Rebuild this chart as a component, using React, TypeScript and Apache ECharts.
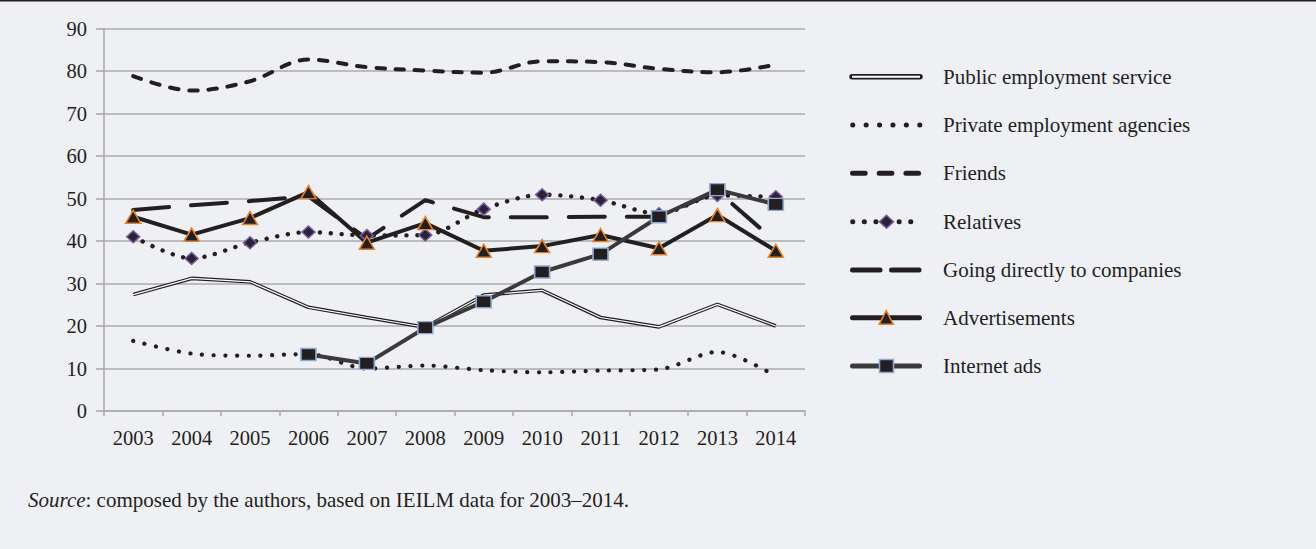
import React, { useEffect, useRef } from 'react';
import * as echarts from 'echarts';

const years = ['2003', '2004', '2005', '2006', '2007', '2008', '2009', '2010', '2011', '2012', '2013', '2014'];
const publicEmployment = [27.4, 31.2, 30.4, 24.4, 22.0, 19.7, 27.3, 28.4, 22.0, 19.8, 25.1, 20.0];
const privateAgencies = [16.5, 13.5, 13.0, 13.4, 10.0, 10.7, 9.6, 9.1, 9.5, 9.8, 13.9, 8.2];
const friends = [78.8, 75.4, 77.6, 82.7, 80.9, 80.1, 79.6, 82.3, 82.1, 80.5, 79.7, 81.5];
const relatives = [41.0, 35.9, 39.6, 42.1, 41.3, 41.4, 47.5, 50.9, 49.6, 46.4, 50.7, 50.4];
const companies = [47.3, 48.4, 49.4, 50.5, 40.5, 49.6, 45.6, 45.6, 45.7, 45.7, 51.8, 39.8];
const advertisements = [45.7, 41.5, 45.4, 51.5, 39.6, 44.2, 37.7, 38.8, 41.4, 38.3, 46.1, 37.7];
const internetAds = [null, null, null, 13.3, 11.2, 19.6, 25.7, 32.7, 36.9, 45.7, 52.1, 48.6];
const legendNames = [
  'Public employment service',
  'Private employment agencies',
  'Friends',
  'Relatives',
  'Going directly to companies',
  'Advertisements',
  'Internet ads',
];
const sourceNote = 'composed by the authors, based on IEILM data for 2003–2014.';

const FONT = '"Liberation Serif", "DejaVu Serif", serif';
const INK = '#231f20';
const BG = '#eff0f4';

export default function App() {
  const ref = useRef<HTMLDivElement>(null);
  useEffect(() => {
    document.body.style.margin = '0';
    const chart = echarts.init(ref.current!, null, { renderer: 'svg' });

    const lx1 = 850, lx2 = 922, ltx = 943;
    const rows = [76.7, 125, 173.3, 221.7, 270, 317.7, 366];
    const legendEls: any[] = [];
    legendEls.push({ type: 'line', shape: { x1: lx1 + 2, y1: rows[0], x2: lx2 - 2, y2: rows[0] }, style: { stroke: INK, lineWidth: 5.5, lineCap: 'round' } });
    legendEls.push({ type: 'line', shape: { x1: lx1 + 2, y1: rows[0], x2: lx2 - 2, y2: rows[0] }, style: { stroke: '#ffffff', lineWidth: 2 } });
    legendEls.push({ type: 'line', shape: { x1: 852.7, y1: rows[1], x2: 920, y2: rows[1] }, style: { stroke: INK, lineWidth: 5, lineCap: 'round', lineDash: [0.1, 13.3] } });
    legendEls.push({ type: 'line', shape: { x1: lx1 + 2.5, y1: rows[2], x2: lx2 - 2.5, y2: rows[2] }, style: { stroke: INK, lineWidth: 5, lineCap: 'round', lineDash: [12.7, 14] } });
    legendEls.push({ type: 'line', shape: { x1: 852.7, y1: rows[3], x2: 911, y2: rows[3] }, style: { stroke: INK, lineWidth: 5, lineCap: 'round', lineDash: [0.1, 11.5] } });
    legendEls.push({ type: 'polygon', shape: { points: [[886.5, rows[3] - 6.5], [893.5, rows[3]], [886.5, rows[3] + 6.5], [879.5, rows[3]]] }, style: { fill: '#2a2430', stroke: '#7a5aa8', lineWidth: 1.5 } });
    legendEls.push({ type: 'line', shape: { x1: lx1 + 2.5, y1: rows[4], x2: lx2 - 2.5, y2: rows[4] }, style: { stroke: INK, lineWidth: 5, lineCap: 'round', lineDash: [27.5, 11.5] } });
    legendEls.push({ type: 'line', shape: { x1: lx1 + 2.5, y1: rows[5], x2: lx2 - 2.5, y2: rows[5] }, style: { stroke: INK, lineWidth: 5, lineCap: 'round' } });
    legendEls.push({ type: 'polygon', shape: { points: [[886.2, rows[5] - 7], [893.2, rows[5] + 6.5], [879.2, rows[5] + 6.5]] }, style: { fill: INK, stroke: '#e8822a', lineWidth: 1.6 } });
    legendEls.push({ type: 'line', shape: { x1: lx1 + 2.5, y1: rows[6], x2: lx2 - 2.5, y2: rows[6] }, style: { stroke: '#3a3a3a', lineWidth: 5, lineCap: 'round' } });
    legendEls.push({ type: 'rect', shape: { x: 879.5, y: rows[6] - 6.5, width: 14, height: 13 }, style: { fill: INK, stroke: '#8fa9d4', lineWidth: 1.6 } });
    legendNames.forEach((n, i) => {
      legendEls.push({ type: 'text', x: ltx, y: rows[i], style: { text: n, font: `21px ${FONT}`, fill: INK, verticalAlign: 'middle', align: 'left' } });
    });

    const noSym = { symbol: 'none', showSymbol: false };
    chart.setOption({
      animation: false,
      backgroundColor: BG,
      grid: { left: 104, right: 511, top: 28.5, bottom: 138, containLabel: false },
      xAxis: {
        type: 'category',
        data: years,
        boundaryGap: true,
        axisLine: { lineStyle: { color: '#a9a9ab', width: 1.5 } },
        axisTick: { show: true, length: 5, lineStyle: { color: '#a9a9ab', width: 1.5 } },
        axisLabel: { color: INK, fontFamily: FONT, fontSize: 20.5, margin: 16 },
        splitLine: { show: false },
      },
      yAxis: {
        type: 'value',
        min: 0,
        max: 90,
        interval: 10,
        axisLine: { show: true, lineStyle: { color: '#a9a9ab', width: 1.5 } },
        axisTick: { show: true, length: 8, lineStyle: { color: '#a9a9ab', width: 1.5 } },
        axisLabel: { color: INK, fontFamily: FONT, fontSize: 20.5, margin: 17 },
        splitLine: { lineStyle: { color: '#ababad', width: 1.5 } },
      },
      graphic: [
        { type: 'rect', shape: { x: 0, y: 0, width: 1316, height: 1.5 }, style: { fill: INK } },
        ...legendEls,
        {
          type: 'text',
          x: 28,
          y: 500,
          style: {
            text: '{i|Source}: ' + sourceNote,
            font: `21px ${FONT}`,
            fill: INK,
            verticalAlign: 'middle',
            rich: { i: { fontStyle: 'italic', fontFamily: FONT, fontSize: 21, fill: INK } },
          },
        },
      ],
      series: [
        { name: legendNames[0], type: 'line', data: publicEmployment, ...noSym, lineStyle: { color: INK, width: 3.6 } },
        { name: legendNames[0] + ' inner', type: 'line', data: publicEmployment, ...noSym, silent: true, lineStyle: { color: '#ffffff', width: 1.2 } },
        { name: legendNames[1], type: 'line', data: privateAgencies, ...noSym, smooth: 0.3, lineStyle: { color: INK, width: 4.2, type: [0.1, 11.6], cap: 'round' } },
        { name: legendNames[2], type: 'line', data: friends, ...noSym, smooth: 0.35, lineStyle: { color: INK, width: 4, type: [8.5, 10.8], cap: 'round' } },
        {
          name: legendNames[3], type: 'line', data: relatives, smooth: 0.3, symbol: 'diamond', symbolSize: [13, 12], showSymbol: true,
          lineStyle: { color: INK, width: 4.4, type: [0.1, 10.7], cap: 'round' },
          itemStyle: { color: '#2a2430', borderColor: '#7a5aa8', borderWidth: 1.5 },
        },
        { name: legendNames[4], type: 'line', data: companies, ...noSym, lineStyle: { color: INK, width: 4, type: [36, 22], cap: 'round' } },
        {
          name: legendNames[5], type: 'line', data: advertisements, symbol: 'triangle', symbolSize: [15, 13], showSymbol: true,
          lineStyle: { color: INK, width: 4 },
          itemStyle: { color: INK, borderColor: '#e8822a', borderWidth: 1.5 },
        },
        {
          name: legendNames[6], type: 'line', data: internetAds, symbol: 'rect', symbolSize: [15, 12], showSymbol: true,
          lineStyle: { color: '#3a3a3a', width: 4 },
          itemStyle: { color: INK, borderColor: '#8fa9d4', borderWidth: 1.5 },
        },
      ],
    });
    return () => chart.dispose();
  }, []);
  return <div ref={ref} style={{ width: 1316, height: 549, background: BG }} />;
}
